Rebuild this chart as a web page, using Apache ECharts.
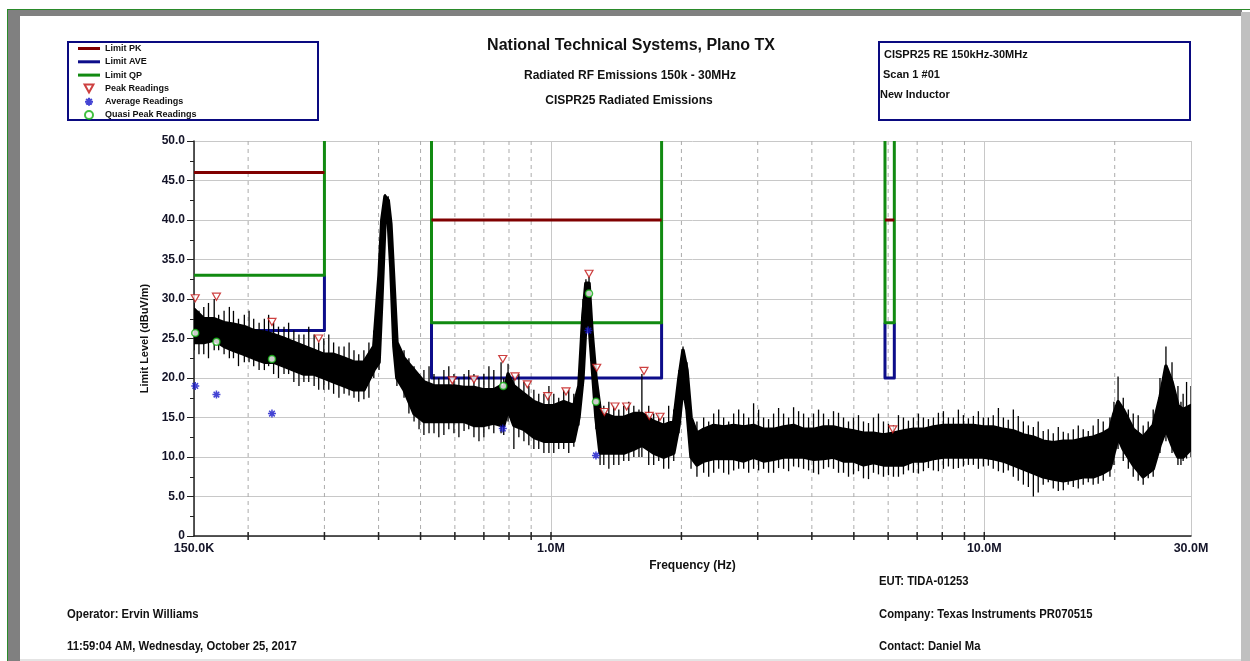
<!DOCTYPE html>
<html>
<head>
<meta charset="utf-8">
<title>CISPR25 Radiated Emissions</title>
<script src="https://cdn.jsdelivr.net/npm/echarts@6/dist/echarts.min.js"></script>
<style>
  html, body { margin: 0; padding: 0; background: #fff; }
  #chart { width: 1250px; height: 661px; }
</style>
</head>
<body>
<div id="chart"></div>
<script>
// frequencies in MHz, levels in dBuV/m
const traceFreq = [0.150, 0.158, 0.167, 0.176, 0.185, 0.196, 0.206, 0.218, 0.229, 0.242,
  0.255, 0.269, 0.284, 0.299, 0.315, 0.333, 0.351, 0.370, 0.390, 0.401,
  0.407, 0.414, 0.421, 0.427, 0.434, 0.441, 0.458, 0.483, 0.509, 0.537,
  0.566, 0.597, 0.630, 0.664, 0.700, 0.738, 0.767, 0.778, 0.796, 0.821,
  0.866, 0.913, 0.963, 1.015, 1.070, 1.129, 1.160, 1.185, 1.204, 1.224,
  1.243, 1.270, 1.298, 1.324, 1.396, 1.472, 1.553, 1.621, 1.726, 1.820,
  1.920, 1.974, 2.017, 2.060, 2.105, 2.172, 2.251, 2.374, 2.503, 2.640,
  2.784, 2.935, 3.095, 3.264, 3.442, 3.630, 3.828, 4.036, 4.256, 4.488,
  4.733, 4.991, 5.263, 5.550, 5.853, 6.172, 6.508, 6.863, 7.237, 7.632,
  8.048, 8.487, 8.950, 9.438, 9.952, 10.49, 11.07, 11.67, 12.31, 12.98,
  13.68, 14.43, 15.22, 16.05, 16.92, 17.84, 18.82, 19.50, 19.92, 20.36,
  20.93, 22.07, 23.27, 24.54, 25.44, 26.26, 27.12, 27.99, 28.77, 30.0];
const traceSpikeHi = [29.5, 29, 30, 28.5, 28.5, 28, 27.5, 27.5, 27, 26.5,
  26, 25.5, 25.5, 25, 24.5, 24, 23.5, 23.5, 26, 34,
  40.5, 43.3, 43, 40, 33, 25, 23.5, 21.5, 21, 20.5,
  21, 20.5, 20.5, 20.5, 20.5, 21, 22, 20, 21.8, 20,
  19.5, 18.5, 18, 18, 18.5, 18, 21, 30, 32.5, 32.8,
  27, 21.5, 17, 16.5, 16.5, 16.5, 16.5, 20.5, 15.5, 15,
  16, 21, 24, 22, 16, 14.5, 15, 15.5, 15, 15.5,
  15.5, 16.8, 15, 15.5, 15.5, 16.3, 15.5, 15.5, 15.5, 15.8,
  15, 15, 14.5, 15, 14.5, 14, 15, 15, 15, 15,
  15.8, 15, 15.3, 15.2, 15, 15.3, 15, 16, 14.5, 13.8,
  13.3, 13, 13.2, 13.5, 13.5, 14, 14.5, 15, 17, 20.2,
  17.5, 15.5, 14, 16, 20, 24, 22, 19, 18, 19];
const traceCoreHi = [28.7, 27.5, 27.5, 27, 26.8, 26.5, 26, 25.8, 25.5, 25,
  24.5, 24, 23.5, 23, 23, 22.5, 22, 22, 24, 33,
  40, 43, 42.5, 39.5, 32, 24.5, 22.5, 21, 19.5, 19,
  19, 19, 18.8, 18.8, 18.5, 18.5, 19, 18, 20.5, 19,
  18, 17, 16.5, 16.5, 17, 16.5, 19, 28, 32, 32,
  26, 20, 16, 15.5, 15, 15, 15.5, 15.5, 14.5, 14,
  14.5, 20, 23.5, 21, 15, 13, 13.5, 14, 13.8, 14,
  13.8, 14, 13.5, 13.5, 13.8, 14, 13.5, 13.5, 13.8, 13.8,
  13.5, 13.3, 13, 13, 12.8, 13, 13.3, 13.5, 13.5, 13.8,
  14, 14, 14, 14, 13.8, 13.8, 13.5, 13.3, 12.8, 12.5,
  12, 11.8, 12, 12, 12.3, 12.5, 13, 13.5, 15.5, 17,
  16, 13.5, 12.5, 14, 17.5, 21.5, 19.5, 16.5, 16, 16.5];
const traceCoreLo = [24.5, 24.5, 24.8, 24, 23.5, 23, 22.5, 22, 22, 21.5,
  21, 20.5, 20.5, 20, 19.5, 19, 18.5, 18.5, 21, 22,
  30, 40, 40, 34, 24, 20, 18.5, 15.5, 14.5, 14.5,
  14.5, 14.5, 14.5, 14, 14, 14.3, 14, 14, 16, 14,
  13.5, 12.5, 12, 12, 12, 12, 15, 20, 27, 27,
  22, 15, 10.5, 10.5, 10.5, 10.5, 11, 11.5, 10.5, 10,
  10.5, 14, 19, 16, 10, 9, 9.5, 9.8, 9.8, 9.8,
  9.5, 10, 9.5, 9.7, 10, 10, 10, 9.7, 9.8, 10,
  9.5, 9.5, 9, 9.3, 9, 9, 9, 9.5, 9.5, 9.8,
  10, 10, 10, 10, 10, 9.8, 9.5, 9, 8.5, 8,
  7.5, 7.2, 7, 7.2, 7.5, 7.5, 8, 8.5, 10.5, 12.5,
  11, 9, 7.5, 8.5, 11.5, 13.5, 11.5, 10, 10, 11];
const traceSpikeLo = [23.5, 23, 23.5, 23, 22.5, 22, 21.5, 21, 20.5, 20.5,
  19.5, 19.5, 19, 18.5, 18, 18, 17.5, 17.3, 20, 21,
  29, 39, 39, 33, 23, 19, 17.5, 14.5, 12.8, 13,
  12.8, 13, 13.3, 12.5, 12.5, 13, 13, 12.8, 14.5, 11,
  12, 11, 10.5, 10.5, 11, 11.3, 14, 19, 26, 26,
  21, 13.5, 9, 9, 9, 9.5, 10, 10, 9, 8.5,
  9.5, 13, 18, 15, 8.5, 7.5, 8, 8, 8, 8.3,
  8.5, 8.5, 8.5, 8, 8.5, 8.8, 8.5, 8, 8.5, 8.5,
  8, 7.8, 7.3, 8, 7.5, 7.5, 7.8, 8, 8.2, 8.3,
  8.5, 8.5, 8.8, 9, 8.8, 8.5, 8, 7.5, 6.5, 5,
  6.5, 6, 5.8, 6.2, 6.5, 6.5, 7, 7.5, 9, 11,
  9.5, 7.5, 6.5, 7.5, 10.5, 12, 10.5, 9, 9.5, 10];

// extra noise spikes read between the trace samples
const spike2Freq = [0.154, 0.162, 0.171, 0.181, 0.190, 0.201, 0.212, 0.223, 0.235, 0.248,
  0.262, 0.276, 0.291, 0.307, 0.324, 0.342, 0.360, 0.380, 0.470, 0.496,
  0.523, 0.551, 0.581, 0.613, 0.646, 0.682, 0.719, 0.843, 0.889, 0.937,
  0.989, 1.042, 1.099, 1.360, 1.434, 1.512, 1.596, 1.681, 1.773, 1.869,
  2.312, 2.438, 2.571, 2.711, 2.859, 3.014, 3.178, 3.352, 3.535, 3.728,
  3.931, 4.145, 4.371, 4.609, 4.860, 5.125, 5.405, 5.699, 6.010, 6.338,
  6.683, 7.048, 7.432, 7.837, 8.265, 8.715, 9.191, 9.692, 10.22, 10.78,
  11.36, 11.98, 12.64, 13.32, 14.05, 14.82, 15.62, 16.48, 17.38, 18.32,
  21.50, 22.66, 23.90, 28.44, 29.30];
const spike2Hi = [28.5, 29.5, 28, 29, 27.5, 28.5, 27, 28, 26.5, 27,
  25.5, 26.5, 24.5, 25.5, 24, 24.5, 23, 24.5, 22.5, 20.5,
  21.5, 20, 21.5, 20, 21, 20, 21.5, 20.5, 19, 18,
  19, 17.5, 18.5, 17, 16, 17, 16, 16.5, 15.5, 16.5,
  14.5, 16, 14.5, 16, 15, 16, 14.8, 16.2, 15, 15.8,
  15, 16, 14.8, 15.6, 14.5, 15.3, 14.3, 15.5, 14.2, 15.3,
  14.6, 15.5, 14.8, 15.6, 15, 16, 14.9, 15.8, 15, 16.2,
  14.7, 15.2, 14, 14.5, 13.5, 13.8, 13, 14, 13.3, 14.8,
  16, 15.3, 14.5, 17, 19.5];
const spike2Lo = [23, 22.5, 23.5, 22.5, 21.5, 22, 21, 21.5, 20, 20.5,
  19, 19.5, 18.5, 18.5, 17.5, 17.8, 17, 17.5, 15.5, 13.5,
  13, 12.5, 13.5, 12.5, 13.5, 12, 13.5, 12.5, 11.5, 11,
  10.5, 11, 10.5, 8.5, 9, 9.5, 10, 9, 9.5, 8.5,
  7.5, 8.5, 7.8, 8.5, 8, 8.3, 8, 8.6, 8.2, 8.7,
  8.3, 7.8, 8.7, 8, 7.5, 8.2, 7.2, 7.8, 7.7, 7.5,
  8.3, 7.9, 8.6, 8.2, 8.8, 8.6, 9, 8.5, 8.9, 8.2,
  8.3, 7, 6.2, 5.5, 6.8, 5.7, 6.5, 6, 6.8, 6.6,
  8.5, 7, 7.3, 9, 9.8];

// limit lines: [freq MHz, level]
const limitPK = [
  [[0.15, 46], [0.3, 46]],
  [[0.53, 40], [1.8, 40]],
  [[5.9, 40], [6.2, 40]]
];
const limitAVE = [
  [[0.15, 26], [0.3, 26], [0.3, 33]],
  [[0.53, 27], [0.53, 20], [1.8, 20], [1.8, 27]],
  [[5.9, 27], [5.9, 20], [6.2, 20], [6.2, 27]]
];
const limitQP = [
  [[0.15, 33], [0.3, 33], [0.3, 50]],
  [[0.53, 50], [0.53, 27], [1.8, 27], [1.8, 50]],
  [[5.9, 50], [5.9, 27], [6.2, 27], [6.2, 50]]
];

// readings
const peakFreq = [0.151, 0.169, 0.227, 0.291, 0.592, 0.664, 0.774, 0.826, 0.882, 0.983,
  1.083, 1.224, 1.275, 1.328, 1.405, 1.495, 1.639, 1.686, 1.785, 6.15];
const peakLevel = [30.1, 30.3, 27.1, 25.0, 19.7, 19.8, 22.4, 20.2, 19.2, 17.7,
  18.3, 33.2, 21.3, 15.7, 16.4, 16.4, 20.9, 15.2, 15.1, 13.5];
const qpFreq = [0.151, 0.169, 0.227, 0.776, 1.224, 1.27];
const qpLevel = [25.7, 24.6, 22.4, 19.0, 30.7, 17.0];
const avgFreq = [0.151, 0.169, 0.227, 0.774, 1.22, 1.27];
const avgLevel = [19.0, 17.9, 15.5, 13.6, 26.0, 10.2];

// log axis helper lines
const minorGridFreq = [0.2, 0.3, 0.4, 0.5, 0.6, 0.7, 0.8, 0.9, 2, 3, 4, 5, 6, 7, 8, 9, 20];
const xTickFreq = [0.2, 0.3, 0.4, 0.5, 0.6, 0.7, 0.8, 0.9, 1, 2, 3, 4, 5, 6, 7, 8, 9, 10, 20];

const FONT = '"Liberation Sans", Arial, sans-serif';
const NAVY = '#0a0a80';
const LINE_ICON = 'path://M0,0M0,2.5L22,2.5L22,5.5L0,5.5ZM22,8';

let chart = echarts.init(document.getElementById('chart'));

function limitSeries (name, segs, color) {
  return segs.map(seg => ({
    name: name,
    type: 'line',
    data: seg,
    symbol: 'none',
    z: 2,
    lineStyle: { color: color, width: 3, join: 'round' },
    itemStyle: { color: color }
  }));
}

// vertical hairline from low to high value at one frequency
function spikeSeries (name, freq, lo, hi) {
  return {
    type: 'custom',
    name: name,
    silent: true,
    clip: true,
    z: 3,
    data: freq.map((f, i) => [f, lo[i], hi[i]]),
    encode: { x: 0, y: [1, 2] },
    renderItem: (params, api) => {
      let a = api.coord([api.value(0), api.value(1)]);
      let b = api.coord([api.value(0), api.value(2)]);
      return {
        type: 'line',
        shape: { x1: a[0], y1: a[1], x2: b[0], y2: b[1] },
        style: { stroke: '#000', lineWidth: 1.3 }
      };
    }
  };
}

// footer / side text, slightly condensed like the original print
function infoText (x, y, text) {
  return {
    type: 'text', x: x, y: y, scaleX: 0.94,
    style: { x: 0, y: 0, text: text, font: 'bold 12px ' + FONT, fill: '#111', textVerticalAlign: 'middle' }
  };
}

let option = {
  animation: false,
  backgroundColor: '#fff',
  grid: { left: 194, right: 59, top: 141, bottom: 125 },
  legend: {
    orient: 'vertical',
    left: 78,
    top: 43,
    padding: 0,
    itemWidth: 22,
    itemHeight: 8,
    itemGap: 2.3,
    textStyle: { fontFamily: FONT, fontSize: 9, fontWeight: 'bold', color: '#111', lineHeight: 11 },
    data: [
      { name: 'Limit PK', icon: LINE_ICON },
      { name: 'Limit AVE', icon: LINE_ICON },
      { name: 'Limit QP', icon: LINE_ICON },
      'Peak Readings', 'Average Readings', 'Quasi Peak Readings'
    ]
  },
  xAxis: {
    type: 'log',
    logBase: 10,
    min: 0.15,
    max: 30,
    name: 'Frequency (Hz)',
    nameLocation: 'middle',
    nameGap: 24,
    nameTextStyle: { fontFamily: FONT, fontSize: 12, fontWeight: 'bold', color: '#111' },
    axisLine: { lineStyle: { color: '#222', width: 1.5 } },
    axisTick: { show: false },
    axisLabel: {
      fontFamily: FONT, fontSize: 12.5, fontWeight: 'bold', color: '#141428', margin: 6,
      formatter: v => v < 1 ? (v * 1000).toFixed(1) + 'K' : v.toFixed(1) + 'M'
    },
    splitLine: { show: true, lineStyle: { color: '#c8c8c8', width: 1 } }
  },
  yAxis: {
    type: 'value',
    min: 0,
    max: 50,
    interval: 5,
    name: 'Limit Level (dBuV/m)',
    nameLocation: 'middle',
    nameGap: 37,
    nameTextStyle: { fontFamily: FONT, fontSize: 11, fontWeight: 'bold', color: '#111' },
    axisLine: { show: true, lineStyle: { color: '#222', width: 1.5 } },
    axisTick: { show: true, length: 7, lineStyle: { color: '#222' } },
    minorTick: { show: true, splitNumber: 2, length: 4, lineStyle: { color: '#222' } },
    axisLabel: {
      fontFamily: FONT, fontSize: 12, fontWeight: 'bold', color: '#141428', margin: 9,
      formatter: v => v === 0 ? '0' : v.toFixed(1)
    },
    splitLine: { show: true, lineStyle: { color: '#c8c8c8', width: 1 } }
  },
  graphic: [
    // window frame
    { type: 'rect', shape: { x: 7, y: 9, width: 1243, height: 1 }, style: { fill: '#2a8a2a' } },
    { type: 'rect', shape: { x: 7, y: 9, width: 1, height: 652 }, style: { fill: '#2a8a2a' } },
    { type: 'rect', shape: { x: 8, y: 10, width: 1234, height: 6 }, style: { fill: '#808080' } },
    { type: 'rect', shape: { x: 8, y: 10, width: 12, height: 651 }, style: { fill: '#808080' } },
    { type: 'rect', shape: { x: 1241, y: 12, width: 9, height: 649 }, style: { fill: '#c0c0c0' } },
    { type: 'rect', shape: { x: 20, y: 659, width: 1221, height: 2 }, style: { fill: '#e4e4e4' } },
    // legend box
    { type: 'rect', shape: { x: 68, y: 42, width: 250, height: 78 }, style: { fill: 'none', stroke: NAVY, lineWidth: 2 } },
    // info box
    { type: 'rect', shape: { x: 879, y: 42, width: 311, height: 78 }, style: { fill: 'none', stroke: NAVY, lineWidth: 2 } },
    { type: 'text', style: { x: 884, y: 55, text: 'CISPR25 RE 150kHz-30MHz', font: 'bold 11px ' + FONT, fill: '#111', textVerticalAlign: 'middle' } },
    { type: 'text', style: { x: 883, y: 75, text: 'Scan 1 #01', font: 'bold 11px ' + FONT, fill: '#111', textVerticalAlign: 'middle' } },
    { type: 'text', style: { x: 880, y: 95, text: 'New Inductor', font: 'bold 11px ' + FONT, fill: '#111', textVerticalAlign: 'middle' } },
    // titles
    { type: 'text', style: { x: 631, y: 46, text: 'National Technical Systems, Plano TX', font: 'bold 16px ' + FONT, fill: '#111', textAlign: 'center', textVerticalAlign: 'middle' } },
    { type: 'text', style: { x: 630, y: 76, text: 'Radiated RF Emissions 150k - 30MHz', font: 'bold 12px ' + FONT, fill: '#111', textAlign: 'center', textVerticalAlign: 'middle' } },
    { type: 'text', style: { x: 629, y: 101, text: 'CISPR25 Radiated Emissions', font: 'bold 12px ' + FONT, fill: '#111', textAlign: 'center', textVerticalAlign: 'middle' } },
    // footer
    infoText(879, 582, 'EUT: TIDA-01253'),
    infoText(67, 615, 'Operator: Ervin Williams'),
    infoText(879, 615, 'Company: Texas Instruments PR070515'),
    infoText(67, 647, '11:59:04 AM, Wednesday, October 25, 2017'),
    infoText(879, 647, 'Contact: Daniel Ma')
  ],
  series: [
    // dashed minor grid of the log axis
    {
      type: 'custom',
      name: 'minorGrid',
      silent: true,
      z: 1,
      data: minorGridFreq.map(f => [f, 0]),
      encode: { x: 0, y: 1 },
      renderItem: (params, api) => {
        let top = api.coord([api.value(0), 50]);
        let bot = api.coord([api.value(0), 0]);
        return {
          type: 'line',
          shape: { x1: top[0], y1: top[1], x2: bot[0], y2: bot[1] },
          style: { stroke: '#acacac', lineWidth: 1, lineDash: [4, 4] }
        };
      }
    },
    // x tick marks crossing the axis line
    {
      type: 'custom',
      name: 'xTicks',
      silent: true,
      clip: false,
      z: 4,
      data: xTickFreq.map(f => [f, 0]),
      encode: { x: 0, y: 1 },
      renderItem: (params, api) => {
        let p = api.coord([api.value(0), 0]);
        return {
          type: 'line',
          shape: { x1: p[0], y1: p[1] - 4, x2: p[0], y2: p[1] + 4 },
          style: { stroke: '#222', lineWidth: 1.5 }
        };
      }
    },
    ...limitSeries('Limit AVE', limitAVE, '#0d0d8a'),
    ...limitSeries('Limit QP', limitQP, '#118a11'),
    ...limitSeries('Limit PK', limitPK, '#800000'),
    // measured trace: dense core band
    {
      type: 'custom',
      name: 'trace',
      silent: true,
      clip: true,
      z: 3,
      data: [[1, 10]],
      encode: { x: 0, y: 1 },
      renderItem: (params, api) => {
        let pts = [];
        traceFreq.forEach((f, i) => pts.push(api.coord([f, traceCoreHi[i]])));
        for (let i = traceFreq.length - 1; i >= 0; i--) {
          pts.push(api.coord([traceFreq[i], traceCoreLo[i]]));
        }
        return {
          type: 'polygon',
          shape: { points: pts },
          style: { fill: '#000', stroke: '#000', lineWidth: 3.5, lineJoin: 'round' }
        };
      }
    },
    // measured trace: noise spikes
    spikeSeries('traceSpikes', traceFreq, traceSpikeLo, traceSpikeHi),
    spikeSeries('traceSpikes2', spike2Freq, spike2Lo, spike2Hi),
    {
      name: 'Peak Readings',
      type: 'scatter',
      z: 6,
      symbol: 'path://M0,0L10,0L5,9Z',
      symbolSize: [8, 7],
      data: peakFreq.map((f, i) => [f, peakLevel[i]]),
      itemStyle: { color: '#fff', borderColor: '#c01010', borderWidth: 1.2 }
    },
    {
      name: 'Average Readings',
      type: 'scatter',
      z: 6,
      symbol: 'path://M5,0L5,10M0,5L10,5M1.5,1.5L8.5,8.5M8.5,1.5L1.5,8.5',
      symbolSize: 8,
      data: avgFreq.map((f, i) => [f, avgLevel[i]]),
      itemStyle: { color: 'rgba(0,0,0,0)', borderColor: '#1515c8', borderWidth: 1.5 }
    },
    {
      name: 'Quasi Peak Readings',
      type: 'scatter',
      z: 6,
      symbol: 'circle',
      symbolSize: 7,
      data: qpFreq.map((f, i) => [f, qpLevel[i]]),
      itemStyle: { color: '#fff', borderColor: '#10b010', borderWidth: 1.5 }
    }
  ]
};

chart.setOption(option);
</script>
</body>
</html>
